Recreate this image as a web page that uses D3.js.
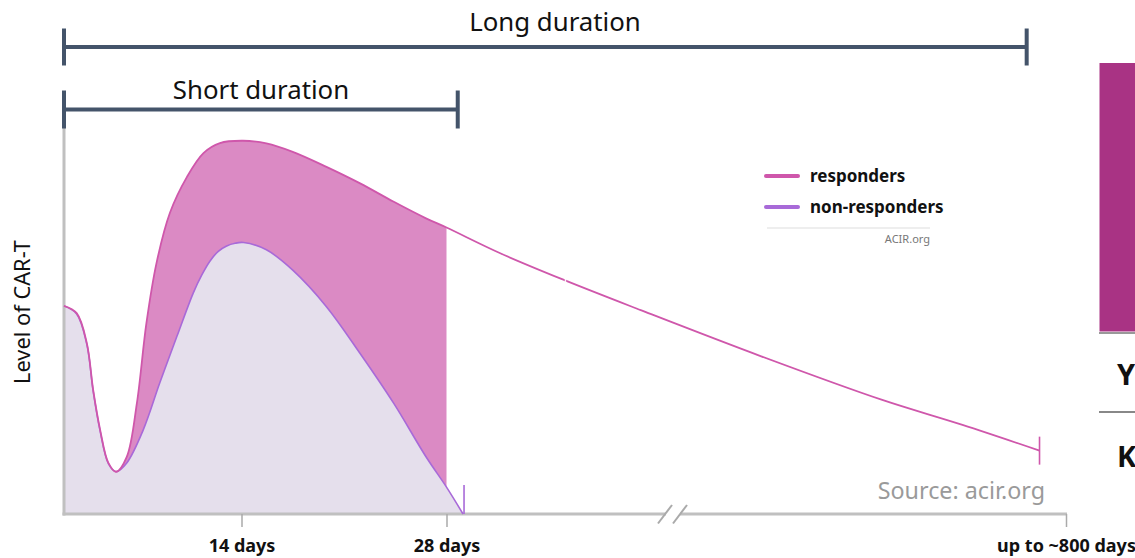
<!DOCTYPE html>
<html>
<head>
<meta charset="utf-8">
<script src="https://cdn.jsdelivr.net/npm/d3@7"></script>
<style>
  body { margin: 0; background: #fff; }
  svg { display: block; font-family: "Noto Sans", "Open Sans", sans-serif; }
</style>
</head>
<body>
<svg id="chart" width="1135" height="558"></svg>
<script>
// CAR-T expansion and persistence over time (days after infusion), relative level
const respDays  = [0, 1.0, 1.8, 2.3, 2.85, 3.5, 4.1, 4.95, 5.75, 6.5, 7.3, 8.35, 9.7, 11.0, 12.3, 14.1, 15.7, 17.5, 19.8, 22.1, 24.4, 26.6, 28, 95, 175, 270, 421, 571, 671, 767];
const respLevel = [54.2, 52.3, 44.5, 32.3, 21.9, 13.3, 11.0, 14.9, 28.9, 49.7, 65.4, 78.4, 87.8, 94.0, 96.6, 97.2, 96.5, 94.3, 90.4, 86.1, 81.3, 77.0, 74.6, 67.9, 60.9, 53.1, 41.0, 29.7, 23.2, 16.5];

const nonDays   = [0, 1.0, 1.8, 2.3, 2.85, 3.5, 4.1, 4.95, 6.25, 7.55, 8.9, 10.2, 10.86, 11.52, 12.17, 12.83, 13.49, 14.14, 15.7, 17.5, 19.8, 22.1, 24.4, 26.6, 28, 48.6];
const nonLevel  = [54.2, 52.1, 44.2, 32.0, 21.6, 13.1, 11.0, 13.3, 21.9, 34.1, 46.2, 57.6, 62.2, 65.9, 68.4, 69.8, 70.5, 70.7, 68.8, 63.5, 54.0, 41.8, 28.8, 14.9, 7.0, 0];

const seriesNames = ["responders", "non-responders"];
const tickDays   = [14, 28, 800];
const tickLabels = ["14 days", "28 days", "up to ~800 days"];

const shortSpan = [0, 42];     // "Short duration" bracket, days
const longSpan  = [0, 751];    // "Long duration" bracket, days
const shadedUntil = 28;        // responders excess shaded up to day 28
const axisBreak = 309;         // day where the time axis is broken

const colors = {
  resp: "#cf57ab", respFill: "#db8ac4",
  non: "#a86ad8", nonFill: "#e5dfec",
  bracket: "#44546a", axis: "#c0c0c0"
};

const svg = d3.select("#chart");

// Piecewise time scale: early days stretched, long tail compressed
const x = d3.scaleLinear().domain([0, 14, 28, 800]).range([64, 241.5, 446.5, 1066]);
const y = d3.scaleLinear().domain([0, 100]).range([514, 130]);

const resp = respDays.map((d, i) => ({ d, v: respLevel[i] }));
const non  = nonDays.map((d, i) => ({ d, v: nonLevel[i] }));

const curve = d3.curveCatmullRom.alpha(0.5);

// Responders area (to day 28)
svg.append("path")
  .datum(resp.filter(p => p.d <= shadedUntil))
  .attr("fill", colors.respFill)
  .attr("d", d3.area().curve(curve).x(p => x(p.d)).y0(y(0)).y1(p => y(p.v)));

// Non-responders area
svg.append("path")
  .datum(non)
  .attr("fill", colors.nonFill)
  .attr("d", d3.area().curve(curve).x(p => x(p.d)).y0(y(0)).y1(p => y(p.v)));

// Axes (drawn as plain rules)
svg.append("line")
  .attr("x1", x(0)).attr("x2", x(0)).attr("y1", 128).attr("y2", y(0) + 1.5)
  .attr("stroke", colors.axis).attr("stroke-width", 3);
svg.append("line")
  .attr("x1", x(0) - 1.5).attr("x2", x(800) + 1).attr("y1", y(0)).attr("y2", y(0))
  .attr("stroke", colors.axis).attr("stroke-width", 3);

const xAxis = d3.axisBottom(x).tickValues(tickDays).tickSize(13)
  .tickFormat((d, i) => tickLabels[i]);
const gx = svg.append("g").attr("transform", `translate(0,${y(0)})`).call(xAxis);
gx.select(".domain").remove();
gx.selectAll(".tick line").attr("stroke", "#aaa").attr("stroke-width", 1.5);
gx.selectAll(".tick text")
  .attr("y", 25).attr("dy", "0.71em")
  .attr("fill", "#111").attr("font-size", 18).attr("font-weight", 700)
  .attr("font-family", "'Noto Sans', sans-serif");

// Axis break
const bx = x(axisBreak);
svg.append("rect").attr("x", bx - 6).attr("y", y(0) - 3).attr("width", 14).attr("height", 6).attr("fill", "#fff");
[-7, 8].forEach(o => {
  svg.append("line")
    .attr("x1", bx + o - 7).attr("y1", y(0) + 9.5)
    .attr("x2", bx + o + 7).attr("y2", y(0) - 9)
    .attr("stroke", "#aaa").attr("stroke-width", 2);
});

// Lines
const line = d3.line().curve(curve).x(p => x(p.d)).y(p => y(p.v));
svg.append("path").datum(non).attr("fill", "none")
  .attr("stroke", colors.non).attr("stroke-width", 1.6).attr("d", line);
svg.append("path").datum(resp).attr("fill", "none")
  .attr("stroke", colors.resp).attr("stroke-width", 1.8).attr("d", line);

// Small gap on the responders tail
const gapDay = 175;
const gapY = y(respLevel[respDays.indexOf(gapDay)]);
svg.append("line")
  .attr("x1", x(gapDay) + 1).attr("x2", x(gapDay) + 1)
  .attr("y1", gapY - 2).attr("y2", gapY + 12)
  .attr("stroke", "#fff").attr("stroke-width", 1.5).attr("opacity", 0.9);

// End markers
const rEnd = resp[resp.length - 1];
svg.append("line").attr("x1", x(rEnd.d)).attr("x2", x(rEnd.d))
  .attr("y1", y(rEnd.v) - 14).attr("y2", y(rEnd.v) + 14)
  .attr("stroke", colors.resp).attr("stroke-width", 1.6);
const nEnd = non[non.length - 1];
svg.append("line").attr("x1", x(nEnd.d) + 1).attr("x2", x(nEnd.d) + 1)
  .attr("y1", y(nEnd.v) - 29).attr("y2", y(nEnd.v))
  .attr("stroke", colors.non).attr("stroke-width", 1.6);

// Duration brackets
function bracket(span, yy, half, label, ly) {
  const g = svg.append("g").attr("stroke", colors.bracket).attr("stroke-width", 4);
  g.append("line").attr("x1", x(span[0])).attr("x2", x(span[1])).attr("y1", yy).attr("y2", yy);
  g.append("line").attr("x1", x(span[0])).attr("x2", x(span[0])).attr("y1", yy - half).attr("y2", yy + half);
  g.append("line").attr("x1", x(span[1])).attr("x2", x(span[1])).attr("y1", yy - half).attr("y2", yy + half);
  svg.append("text").attr("x", label.cx).attr("y", ly)
    .attr("text-anchor", "middle").attr("font-size", 25.8).attr("fill", "#111")
    .text(label.text);
}
bracket(longSpan, 47, 18.5, { text: "Long duration", cx: 555 }, 31);
bracket(shortSpan, 109.5, 19, { text: "Short duration", cx: 261 }, 99);

// Y label
svg.append("text")
  .attr("transform", "translate(30,312) rotate(-90)")
  .attr("text-anchor", "middle").attr("font-size", 21.8).attr("fill", "#111")
  .text("Level of CAR-T");

// Legend
const legend = svg.append("g");
[colors.resp, colors.non].forEach((c, i) => {
  legend.append("line").attr("x1", 766).attr("x2", 798)
    .attr("y1", 176 + i * 31).attr("y2", 176 + i * 31)
    .attr("stroke", c).attr("stroke-width", 4).attr("stroke-linecap", "round");
  legend.append("text").attr("x", 810).attr("y", 182 + i * 31)
    .attr("font-size", 17).attr("font-weight", 700).attr("fill", "#111")
    .text(seriesNames[i]);
});
legend.append("line").attr("x1", 767).attr("x2", 930).attr("y1", 228).attr("y2", 228)
  .attr("stroke", "#ddd").attr("stroke-width", 1);
legend.append("text").attr("x", 930).attr("y", 243).attr("text-anchor", "end")
  .attr("font-size", 11).attr("fill", "#777").text("ACIR.org");

// Source
svg.append("text").attr("x", 1045).attr("y", 499).attr("text-anchor", "end")
  .attr("font-size", 23.3).attr("fill", "#9a9a9a").text("Source: acir.org");

// Adjacent panel (partially in view)
svg.append("rect").attr("x", 1099).attr("y", 332).attr("width", 40).attr("height", 2).attr("fill", "#999");
svg.append("rect").attr("x", 1099.5).attr("y", 63).attr("width", 40).attr("height", 268.5).attr("fill", "#a93384");
svg.append("text").attr("x", 1117).attr("y", 385).attr("font-size", 29).attr("font-weight", 700).attr("fill", "#111").text("Y");
svg.append("line").attr("x1", 1099).attr("x2", 1140).attr("y1", 412).attr("y2", 412).attr("stroke", "#888").attr("stroke-width", 2);
svg.append("text").attr("x", 1117).attr("y", 467).attr("font-size", 29).attr("font-weight", 700).attr("fill", "#111").text("K");
</script>
</body>
</html>
